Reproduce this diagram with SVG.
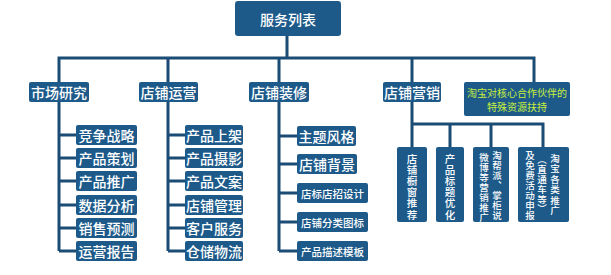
<svg xmlns="http://www.w3.org/2000/svg" width="611" height="275" viewBox="0 0 611 275">
<style>
.b{fill:#1d5a8a;}
.t{fill:#ffffff;font-family:"Noto Sans CJK SC","Noto Sans",sans-serif;text-anchor:middle;dominant-baseline:central;}
.l1{font-size:14px;font-weight:500;}
.s1{font-size:14px;font-weight:500;}
.s2{font-size:10.5px;font-weight:500;}
.v{font-size:10.5px;font-weight:500;}
.v2{font-size:9.5px;font-weight:500;}
.g{fill:#c8f03c;font-size:10px;}
.c{fill:none;stroke:#1b4c75;stroke-width:3;stroke-linejoin:miter;}
</style>
<rect width="611" height="275" fill="#ffffff"/>
<g id="connectors">
<path class="c" d="M287 36V58M59 82V58H534V82M168 58V82M279 58V82M412 58V82"/>
<path class="c" d="M59 102V251M59 135H76M59 158H76M59 181H76M59 205H76M59 228H76M59 251H76"/>
<path class="c" d="M168 102V251M168 135H185M168 158H185M168 181H185M168 205H185M168 228H185M168 251H185"/>
<path class="c" d="M279 102V251M279 136H297M279 164H297M279 193H297M279 222H297M279 251H297"/>
<path class="c" d="M412 102V147M412 124H543V147M450 124V147M491 124V147"/>
</g>
<g id="root"><rect class="b" x="235" y="1" width="106" height="35" rx="3"/><text class="t l1" x="288" y="19">服务列表</text></g>
<g id="n-market"><rect class="b" x="29" y="82" width="60" height="20" rx="2"/><text class="t l1" x="59" y="92">市场研究</text></g>
<g id="n-ops"><rect class="b" x="139" y="82" width="59" height="20" rx="2"/><text class="t l1" x="168.5" y="92">店铺运营</text></g>
<g id="n-deco"><rect class="b" x="249" y="82" width="60" height="20" rx="2"/><text class="t l1" x="279" y="92">店铺装修</text></g>
<g id="n-mkt"><rect class="b" x="383" y="82" width="58" height="20" rx="2"/><text class="t l1" x="412" y="92">店铺营销</text></g>
<g id="n-tb"><rect class="b" x="464" y="82" width="106" height="34" rx="2"/><text class="t g" x="517" y="92">淘宝对核心合作伙伴的</text><text class="t g" x="517" y="106">特殊资源扶持</text></g>
<g id="m1"><rect class="b" x="76" y="125" width="61" height="20" rx="2"/><text class="t s1" x="106.5" y="135">竞争战略</text></g>
<g id="m2"><rect class="b" x="76" y="148" width="61" height="20" rx="2"/><text class="t s1" x="106.5" y="158">产品策划</text></g>
<g id="m3"><rect class="b" x="76" y="171" width="61" height="20" rx="2"/><text class="t s1" x="106.5" y="181">产品推广</text></g>
<g id="m4"><rect class="b" x="76" y="195" width="61" height="20" rx="2"/><text class="t s1" x="106.5" y="205">数据分析</text></g>
<g id="m5"><rect class="b" x="76" y="218" width="61" height="20" rx="2"/><text class="t s1" x="106.5" y="228">销售预测</text></g>
<g id="m6"><rect class="b" x="76" y="241" width="61" height="20" rx="2"/><text class="t s1" x="106.5" y="251">运营报告</text></g>
<g id="o1"><rect class="b" x="185" y="125" width="58" height="20" rx="2"/><text class="t s1" x="214" y="135">产品上架</text></g>
<g id="o2"><rect class="b" x="185" y="148" width="58" height="20" rx="2"/><text class="t s1" x="214" y="158">产品摄影</text></g>
<g id="o3"><rect class="b" x="185" y="171" width="58" height="20" rx="2"/><text class="t s1" x="214" y="181">产品文案</text></g>
<g id="o4"><rect class="b" x="185" y="195" width="58" height="20" rx="2"/><text class="t s1" x="214" y="205">店铺管理</text></g>
<g id="o5"><rect class="b" x="185" y="218" width="58" height="20" rx="2"/><text class="t s1" x="214" y="228">客户服务</text></g>
<g id="o6"><rect class="b" x="185" y="241" width="58" height="20" rx="2"/><text class="t s1" x="214" y="251">仓储物流</text></g>
<g id="d1"><rect class="b" x="297" y="126" width="59" height="20" rx="2"/><text class="t s1" x="326.5" y="136" font-weight="700">主题风格</text></g>
<g id="d2"><rect class="b" x="297" y="154" width="60" height="20" rx="2"/><text class="t s1" x="327" y="164" font-weight="700">店铺背景</text></g>
<g id="d3"><rect class="b" x="297" y="183" width="71" height="20" rx="2"/><text class="t s2" x="332.5" y="193">店标店招设计</text></g>
<g id="d4"><rect class="b" x="297" y="212" width="71" height="20" rx="2"/><text class="t s2" x="332.5" y="222">店铺分类图标</text></g>
<g id="d5"><rect class="b" x="297" y="241" width="71" height="20" rx="2"/><text class="t s2" x="332.5" y="251">产品描述模板</text></g>
<g id="k1"><rect class="b" x="397" y="147" width="30" height="75" rx="2"/><text class="t v" x="412" y="157.5"><tspan x="412">店</tspan><tspan x="412" dy="11.2">铺</tspan><tspan x="412" dy="11.2">橱</tspan><tspan x="412" dy="11.2">窗</tspan><tspan x="412" dy="11.2">推</tspan><tspan x="412" dy="11.2">荐</tspan></text></g>
<g id="k2"><rect class="b" x="436" y="147" width="28" height="75" rx="2"/><text class="t v" x="450" y="157.5"><tspan x="450">产</tspan><tspan x="450" dy="11.2">品</tspan><tspan x="450" dy="11.2">标</tspan><tspan x="450" dy="11.2">题</tspan><tspan x="450" dy="11.2">优</tspan><tspan x="450" dy="11.2">化</tspan></text></g>
<g id="k3"><rect class="b" x="473" y="147" width="36" height="75" rx="2"/><text class="t v2" x="497" y="155"><tspan x="497">淘</tspan><tspan x="497" dy="10">帮</tspan><tspan x="497" dy="10">派</tspan><tspan x="497" dy="10">︑</tspan><tspan x="497" dy="10">掌</tspan><tspan x="497" dy="10">柜</tspan><tspan x="497" dy="10">说</tspan></text><text class="t v2" x="484" y="157"><tspan x="484">微</tspan><tspan x="484" dy="10">博</tspan><tspan x="484" dy="10">等</tspan><tspan x="484" dy="10">营</tspan><tspan x="484" dy="10">销</tspan><tspan x="484" dy="10">推</tspan><tspan x="484" dy="10">广</tspan></text></g>
<g id="k4"><rect class="b" x="518" y="147" width="51" height="75" rx="2"/><text class="t v2" x="555" y="158"><tspan x="555">淘</tspan><tspan x="555" dy="10.4">宝</tspan><tspan x="555" dy="10.4">各</tspan><tspan x="555" dy="10.4">类</tspan><tspan x="555" dy="10.4">推</tspan><tspan x="555" dy="10.4">广</tspan></text><text class="t v2" x="542" y="159"><tspan x="542">︵</tspan><tspan x="542" dy="9.5">直</tspan><tspan x="542" dy="10">通</tspan><tspan x="542" dy="10">车</tspan><tspan x="542" dy="10">等</tspan><tspan x="542" dy="9.5">︶</tspan></text><text class="t v2" x="530" y="155"><tspan x="530">及</tspan><tspan x="530" dy="10">免</tspan><tspan x="530" dy="10">费</tspan><tspan x="530" dy="10">活</tspan><tspan x="530" dy="10">动</tspan><tspan x="530" dy="10">申</tspan><tspan x="530" dy="10">报</tspan></text></g>
</svg>
